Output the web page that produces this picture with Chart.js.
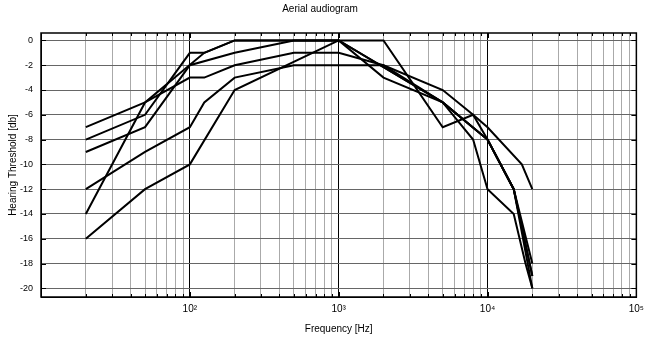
<!DOCTYPE html>
<html>
<head>
<meta charset="utf-8">
<script src="https://cdn.jsdelivr.net/npm/chart.js@4.4.1/dist/chart.umd.min.js"></script>
<style>
  body { margin: 0; background: #fff; }
  #wrap { width: 650px; height: 340px; }
</style>
</head>
<body>
<div id="wrap"><canvas id="audiogram"></canvas></div>
<script>
// Measured thresholds, one array pair per curve (frequency in Hz, level in db)
const freqA = [20, 50, 100, 125, 200, 500, 1000, 2000, 5000, 8000, 10000, 17000, 20000];
const levelA = [-7, -5, -3, -3, -2, -1, -1, -2, -4, -6, -7, -10, -12];

const freqB = [20, 50, 100, 125, 200, 1000, 2000, 5000, 8000, 10000, 15000, 20000];
const levelB = [-8, -6, -1, -1, 0, 0, 0, -7, -6, -8, -12, -18];

const freqC = [20, 50, 100, 200, 500, 1000, 5000, 10000, 15000, 20000];
const levelC = [-9, -7, -2, -1, 0, 0, -5, -8, -12, -19];

const freqD = [20, 50, 100, 125, 200, 500, 1000, 2000, 5000, 10000, 15000, 20000];
const levelD = [-12, -9, -7, -5, -3, -2, -2, -2, -5, -8, -12, -20];

const freqE = [20, 50, 125, 200, 1000, 5000, 8000, 10000, 15000, 18000, 20000];
const levelE = [-14, -5, -1, 0, 0, -5, -8, -12, -14, -18, -20];

const freqF = [20, 50, 100, 200, 1000, 2000, 5000, 10000, 15000, 20000];
const levelF = [-16, -12, -10, -4, 0, -3, -5, -8, -12, -19];

// Axis ticks
const yTicks = [0, -2, -4, -6, -8, -10, -12, -14, -16, -18, -20];
const xDecades = [10, 100, 1000, 10000, 100000];
const xLabels = { 100: '10\u00b2', 1000: '10\u00b3', 10000: '10\u2074', 100000: '10\u2075' };

function toPoints(freqs, levels) {
    return freqs.map((f, i) => ({ x: f, y: levels[i] }));
}

function curve(freqs, levels) {
    return {
        data: toPoints(freqs, levels),
        showLine: true,
        borderColor: '#000',
        borderWidth: 2,
        pointRadius: 0,
        tension: 0,
        fill: false
    };
}

// all 1..9 x 10^k ticks for the log grid
const xTicks = [];
xDecades.forEach(d => {
    for (let m = 1; m <= 9; m++) {
        if (d * m <= 100000) xTicks.push(d * m);
    }
});

function isDecade(v) {
    return xDecades.indexOf(v) !== -1;
}

// Box and inward tick marks like the original plot
const frameTicks = {
    id: 'frameTicks',
    afterDraw(chart) {
        const ctx = chart.ctx;
        const area = chart.chartArea;
        const xs = chart.scales.x;
        const ys = chart.scales.y;
        ctx.save();
        ctx.strokeStyle = '#000';
        ctx.lineWidth = 1;
        ctx.beginPath();
        xTicks.forEach(v => {
            const px = Math.round(xs.getPixelForValue(v)) + 0.5;
            const len = isDecade(v) ? 5 : 3;
            ctx.moveTo(px, area.bottom);
            ctx.lineTo(px, area.bottom - len);
            ctx.moveTo(px, area.top);
            ctx.lineTo(px, area.top + len);
        });
        yTicks.forEach(v => {
            const py = Math.round(ys.getPixelForValue(v)) + 0.5;
            ctx.moveTo(area.left, py);
            ctx.lineTo(area.left + 5, py);
            ctx.moveTo(area.right, py);
            ctx.lineTo(area.right - 5, py);
        });
        ctx.stroke();
        ctx.lineWidth = 1.5;
        ctx.strokeRect(area.left, area.top, area.right - area.left, area.bottom - area.top);
        ctx.restore();
    }
};

const ctx = document.getElementById('audiogram').getContext('2d');
const audiogram = new Chart(ctx, {
    type: 'scatter',
    data: {
        datasets: [
            curve(freqA, levelA),
            curve(freqB, levelB),
            curve(freqC, levelC),
            curve(freqD, levelD),
            curve(freqE, levelE),
            curve(freqF, levelF)
        ]
    },
    options: {
        responsive: true,
        maintainAspectRatio: false,
        animation: false,
        layout: { padding: { left: 0, right: 10, top: 0, bottom: 0 } },
        scales: {
            x: {
                type: 'logarithmic',
                min: 10,
                max: 100000,
                afterBuildTicks: scale => {
                    scale.ticks = xTicks.map(v => ({ value: v }));
                },
                afterFit: scale => { scale.height = 43; },
                grid: {
                    drawTicks: false,
                    color: c => isDecade(c.tick.value) ? '#000' : '#aaa',
                    lineWidth: 1
                },
                border: { display: true, color: '#000' },
                ticks: {
                    autoSkip: false,
                    maxRotation: 0,
                    padding: 6,
                    color: '#000',
                    font: { family: 'Liberation Sans', size: 10 },
                    callback: v => xLabels[v] || ''
                },
                title: {
                    display: true,
                    text: 'Frequency [Hz]',
                    color: '#000',
                    font: { family: 'Liberation Sans', size: 10 },
                    padding: { top: 0, bottom: 5 }
                }
            },
            y: {
                min: -20.7,
                max: 0.6,
                afterBuildTicks: scale => {
                    scale.ticks = yTicks.map(v => ({ value: v }));
                },
                afterFit: scale => { scale.width = 41; },
                grid: {
                    drawTicks: false,
                    color: '#666',
                    lineWidth: 1
                },
                border: { display: true, color: '#000' },
                ticks: {
                    padding: 8,
                    color: '#000',
                    font: { family: 'Liberation Sans', size: 9 },
                    callback: v => String(v)
                },
                title: {
                    display: true,
                    text: 'Hearing Threshold [db]',
                    color: '#000',
                    font: { family: 'Liberation Sans', size: 10 },
                    padding: { top: 7, bottom: 0 }
                }
            }
        },
        plugins: {
            legend: { display: false },
            tooltip: { enabled: false },
            title: {
                display: true,
                text: 'Aerial audiogram',
                color: '#000',
                font: { family: 'Liberation Sans', size: 10, weight: 'normal' },
                padding: { top: 3, bottom: 18 }
            }
        }
    },
    plugins: [frameTicks]
});
</script>
</body>
</html>
